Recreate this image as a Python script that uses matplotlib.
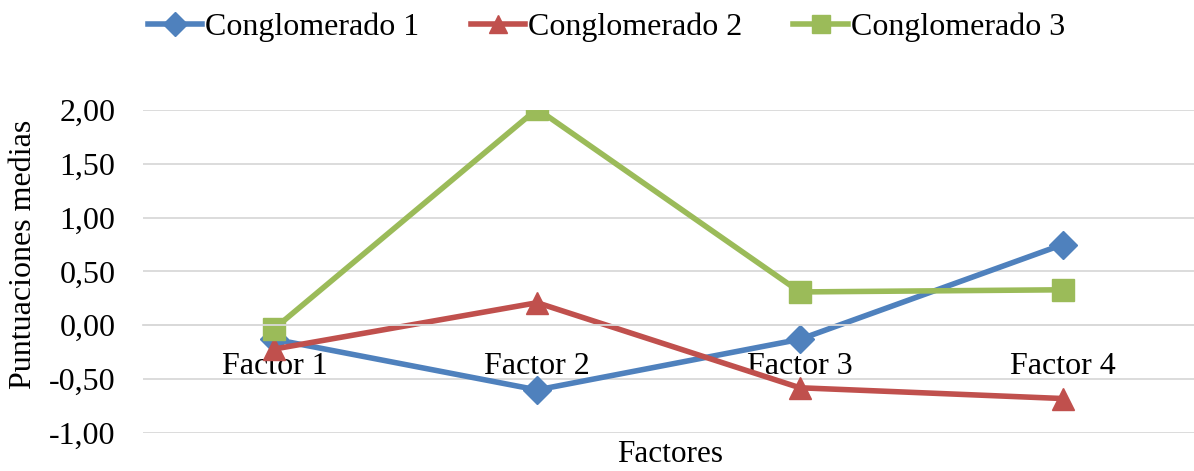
import matplotlib.pyplot as plt
import matplotlib.ticker as ticker

plt.rcParams['font.family'] = ['Liberation Serif', 'DejaVu Serif']

factores = ['Factor 1', 'Factor 2', 'Factor 3', 'Factor 4']
conglomerado_1 = [-0.13, -0.60, -0.13, 0.75]
conglomerado_2 = [-0.22, 0.21, -0.58, -0.68]
conglomerado_3 = [-0.03, 2.01, 0.31, 0.33]
y_ticks = [-1.0, -0.5, 0.0, 0.5, 1.0, 1.5, 2.0]

fig = plt.figure(figsize=(11.94, 4.71), dpi=100)
ax = fig.add_axes([0.1198, 0.0807, 0.8802, 0.6858])

x = range(len(factores))
ax.plot(x, conglomerado_1, '-D', color='#4F81BD', lw=4, ms=14, label='Conglomerado 1')
ax.plot(x, conglomerado_2, '-^', color='#C0504D', lw=4, ms=16, label='Conglomerado 2')
ax.plot(x, conglomerado_3, '-s', color='#9BBB59', lw=4, ms=16, label='Conglomerado 3')

ax.set_xlim(-0.5, 3.5)
ax.set_ylim(-1.0, 2.0)
ax.set_yticks(y_ticks)
ax.yaxis.set_major_formatter(ticker.FuncFormatter(lambda v, p: f'{v:.2f}'.replace('.', ',')))
ax.set_xticks(list(x))
ax.set_xticklabels(factores)
ax.grid(axis='y', color='#D9D9D9', lw=1.3)
ax.set_axisbelow(True)
for s in ['top', 'right', 'left']:
    ax.spines[s].set_visible(False)
ax.spines['bottom'].set_position(('data', 0))
ax.spines['bottom'].set_color('#D9D9D9')
ax.spines['bottom'].set_linewidth(1.3)
ax.tick_params(axis='both', length=0, labelsize=23)
ax.tick_params(axis='y', pad=20)
ax.tick_params(axis='x', pad=19)

# titulos de ejes
fig.text(24 / 1194, 1 - 254 / 471, 'Puntuaciones medias', fontsize=23,
         rotation=90, ha='center', va='center')
fig.text(670 / 1194, 2 / 471, 'Factores', fontsize=22.5, ha='center', va='bottom')

fig.legend(loc='upper center', bbox_to_anchor=(0.508, 1.035), ncol=3, frameon=False,
           fontsize=23, handlelength=1.7, handletextpad=0.1, columnspacing=1.6,
           markerscale=0.85)

fig.savefig('out.png', dpi=100)
